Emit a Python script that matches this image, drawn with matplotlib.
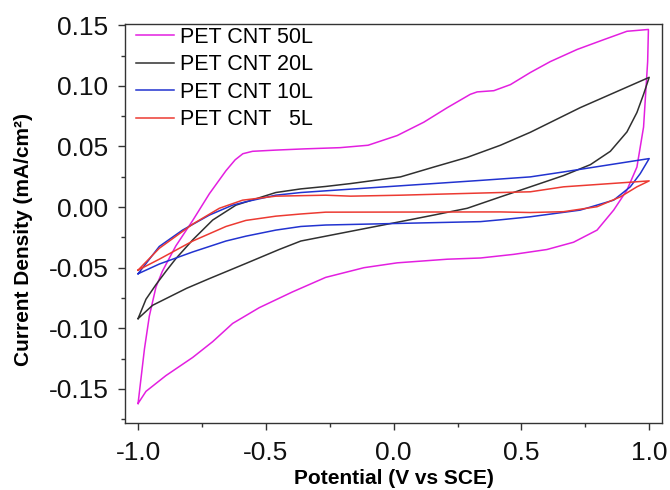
import matplotlib
matplotlib.use("Agg")
import matplotlib.pyplot as plt
from matplotlib.ticker import MultipleLocator

plt.rcParams['font.family'] = ['Liberation Sans', 'DejaVu Sans']

# cyclic voltammograms, each loop: forward sweep then reverse sweep
v_50 = [-1.0, -0.975, -0.956, -0.93, -0.905, -0.88, -0.852, -0.786, -0.721, -0.656,
        -0.620, -0.590, -0.552, -0.461, -0.35, -0.21, -0.10, 0.014, 0.118, 0.21, 0.30,
        0.327, 0.392, 0.457, 0.535, 0.613, 0.718, 0.821, 0.913, 0.997,
        0.994, 0.978, 0.952, 0.913, 0.861, 0.796, 0.704, 0.600, 0.470, 0.340,
        0.210, 0.014, -0.116, -0.266, -0.396, -0.526, -0.630, -0.708, -0.786,
        -0.891, -0.969, -1.0]
j_50 = [-0.162, -0.117, -0.090, -0.066, -0.053, -0.043, -0.032, -0.011, 0.011, 0.030,
        0.039, 0.044, 0.046, 0.047, 0.048, 0.049, 0.051, 0.059, 0.070, 0.082, 0.093,
        0.095, 0.096, 0.101, 0.111, 0.120, 0.130, 0.138, 0.145, 0.1465,
        0.120, 0.066, 0.033, 0.014, -0.0025, -0.019, -0.029, -0.035, -0.039, -0.042,
        -0.043, -0.046, -0.050, -0.058, -0.070, -0.083, -0.096, -0.111, -0.124,
        -0.139, -0.152, -0.162]

v_20 = [-1.0, -0.969, -0.930, -0.891, -0.852, -0.786, -0.708, -0.617, -0.461, -0.363,
        -0.266, -0.168, 0.027, 0.157, 0.288, 0.418, 0.535, 0.730, 1.0,
        0.978, 0.952, 0.913, 0.848, 0.770, 0.665, 0.535, 0.418, 0.288, 0.157,
        0.027, -0.168, -0.363, -0.448, -0.578, -0.721, -0.81, -0.943, -1.0]
j_20 = [-0.092, -0.076, -0.064, -0.053, -0.0425, -0.027, -0.0107, 0.0016, 0.0120, 0.015,
        0.017, 0.0194, 0.0249, 0.033, 0.041, 0.051, 0.0617, 0.082, 0.107,
        0.093, 0.078, 0.062, 0.046, 0.035, 0.026, 0.0167, 0.0084, -0.001, -0.0066,
        -0.012, -0.020, -0.028, -0.035, -0.0465, -0.059, -0.067, -0.081, -0.092]

v_10 = [-1.0, -0.917, -0.826, -0.721, -0.630, -0.578, -0.461, -0.363, -0.266, 0.340,
        0.535, 0.665, 1.0, 0.965, 0.926, 0.861, 0.730, 0.535, 0.418, 0.340,
        -0.266, -0.363, -0.461, -0.578, -0.656, -0.786, -0.917, -1.0]
j_10 = [-0.055, -0.0325, -0.019, -0.0066, 0.0016, 0.0044, 0.0098, 0.0120, 0.0134, 0.022,
        0.0249, 0.029, 0.040, 0.0276, 0.0167, 0.0057, -0.0025, -0.008, -0.0105, -0.012,
        -0.0148, -0.016, -0.019, -0.024, -0.028, -0.037, -0.047, -0.055]

v_5 = [-1.0, -0.917, -0.786, -0.682, -0.591, -0.461, -0.266, -0.168, 0.027, 0.418,
       0.535, 0.665, 1.0, 0.952, 0.887, 0.796, 0.665, 0.535, 0.418, -0.266,
       -0.363, -0.461, -0.578, -0.656, -0.786, -0.917, -1.0]
j_5 = [-0.052, -0.034, -0.014, -0.001, 0.0057, 0.009, 0.0098, 0.0090, 0.0098, 0.0120,
       0.0126, 0.0167, 0.0216, 0.0167, 0.0084, 0.0003, -0.0038, -0.0045, -0.004, -0.0042,
       -0.0057, -0.0075, -0.011, -0.016, -0.028, -0.043, -0.052]

labels = ['PET CNT 50L', 'PET CNT 20L', 'PET CNT 10L', 'PET CNT   5L']
colors = ['#e31fe0', '#303030', '#2233d0', '#ec3a32']

fig = plt.figure(figsize=(6.7, 4.9), dpi=100)
ax = fig.add_axes([0.187, 0.137, 0.801, 0.814])

for v, j, lab, c in zip([v_50, v_20, v_10, v_5], [j_50, j_20, j_10, j_5], labels, colors):
    ax.plot(v, j, color=c, lw=1.1, label=lab)

ax.set_xlim(-1.05, 1.05)
ax.set_ylim(-0.178, 0.151)
ax.xaxis.set_major_locator(MultipleLocator(0.5))
ax.xaxis.set_minor_locator(MultipleLocator(0.25))
ax.yaxis.set_major_locator(MultipleLocator(0.05))
ax.yaxis.set_minor_locator(MultipleLocator(0.025))
ax.xaxis.set_major_formatter(plt.FormatStrFormatter('%.1f'))
ax.yaxis.set_major_formatter(plt.FormatStrFormatter('%.2f'))
ax.tick_params(which='major', direction='out', length=5, width=1, labelsize=19,
               colors='#333333', labelcolor='#111111')
ax.tick_params(which='minor', direction='out', length=3, width=1, colors='#333333')
ax.tick_params(axis='x', which='major', pad=8)
ax.tick_params(axis='y', which='major', pad=7)
for s in ax.spines.values():
    s.set_color('#333333')
    s.set_linewidth(1.0)

ax.set_xlabel('Potential (V vs SCE)', fontsize=15, fontweight='bold', labelpad=3)
ax.set_ylabel('Current Density (mA/cm²)', fontsize=15, fontweight='bold')
ax.yaxis.set_label_coords(-0.172, 0.46)

ax.legend(loc='upper left', frameon=False, fontsize=15.5, handlelength=1.75,
          handletextpad=0.3, labelspacing=0.3, borderaxespad=0.1,
          bbox_to_anchor=(0.0, 1.02))

fig.savefig('out.png', dpi=100)
